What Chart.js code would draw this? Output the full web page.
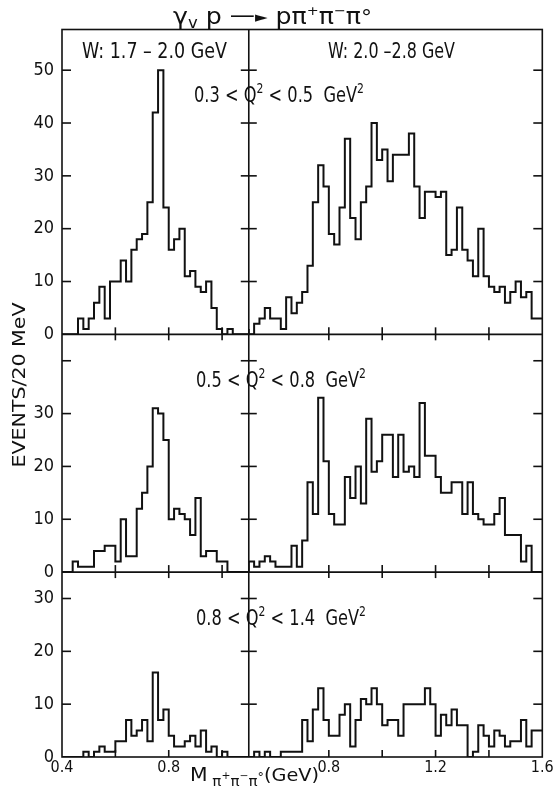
<!DOCTYPE html>
<html>
<head>
<meta charset="utf-8">
<script src="https://cdn.jsdelivr.net/npm/chart.js@4.4.1/dist/chart.umd.min.js"></script>
<style>
html,body{margin:0;padding:0;background:#fff;}
#wrap{position:relative;width:553px;height:789px;}
canvas{display:block;}
</style>
</head>
<body>
<div id="wrap"><canvas id="c" width="553" height="789"></canvas></div>
<script>
// ---- data (events per 20 MeV bin) ----
const BIN_WIDTH = 0.02;                 // GeV
const LEFT_START = 0.40;                // first bin edge, W 1.7-2.0 GeV panels
const RIGHT_START = 0.50;               // first bin edge, W 2.0-2.8 GeV panels
const xRangeLeft = [0.4, 1.1];
const xRangeRight = [0.5, 1.6];

// W: 1.7 - 2.0 GeV
const countsTopLeft = [0,0,0,0,3,1,3,6,9,3,10,10,14,10,16,18,19,25,42,50,24,16,18,20,11,12,9,8,10,5,1,0,1,0,0];
const countsMidLeft = [0,0,0,2,1,1,1,4,4,5,5,2,10,3,3,12,15,20,31,30,25,10,12,11,10,7,14,3,4,4,2,2,0,0,0];
const countsBotLeft = [0,0,0,0,0,1,0,1,2,1,1,3,3,7,4,5,7,3,16,7,9,4,2,2,3,4,2,5,1,2,0,1,0,0,0];
// W: 2.0 - 2.8 GeV
const countsTopRight = [1,0,2,3,5,3,3,1,7,4, 6,8,13,25,32,28,19,17,24,37, 22,18,25,28,40,33,35,29,34,34, 34,38,28,22,27,27,26,27,15,16, 24,16,14,11,20,11,9,8,9,6, 8,10,7,8,3];
const countsMidRight = [0,2,1,2,3,2,1,1,1,5, 1,6,17,11,33,21,11,9,9,18, 14,20,13,29,19,21,26,26,18,26, 19,20,18,32,22,22,18,15,15,17, 17,11,17,11,10,9,9,11,14,7, 7,7,2,5,0];
const countsBotRight = [0,0,1,0,1,0,0,1,1,1, 1,7,3,9,13,7,4,4,8,10, 2,7,11,10,13,10,6,7,7,4, 10,10,10,10,13,10,4,8,6,9, 6,6,0,1,6,4,2,5,4,2, 3,3,7,2,5];

// tick values and labelled ticks
const xTicksLeft = [0.4, 0.6, 0.8, 1.0];
const xLabelsLeft = [0.4, 0.8];
const xTicksRight = [0.8, 1.0, 1.2, 1.4, 1.6];
const xLabelsRight = [0.8, 1.2, 1.6];
const yTicksTop = [0,10,20,30,40,50];
const yLabelsTop = [0,10,20,30,40,50];
const yTicksMid = [0,10,20,30,40];
const yLabelsMid = [0,10,20,30];
const yTicksBot = [0,10,20,30];
const yLabelsBot = [0,10,20,30];
const yMaxTop = 57.7, yMaxMid = 45, yMaxBot = 35;

// texts
const titleRuns = [['γ',23,0],['v',15,4],[' p ',23,0],['—',23,-1],['►',15,-2],[' p',23,0],['π',23,0],['+',13,-9],['π',23,0],['−',13,-9],['π',23,0],['°',20,0]];
const wLeftText = 'W: 1.7 – 2.0 GeV';
const wRightText = 'W: 2.0 –2.8 GeV';
const q2Ranges = [['0.3','0.5'],['0.5','0.8'],['0.8','1.4']];
const yTitle = 'EVENTS/20 MeV';

// ---- drawing ----
const INK = '#111';
const FONT = '"DejaVu Sans Condensed", "DejaVu Sans", sans-serif';
const TFONT = '"DejaVu Sans", sans-serif';

function histPoints(start, counts){
  const pts = counts.map((c,i)=>({x: +(start + i*BIN_WIDTH).toFixed(3), y: c}));
  pts.push({x: +(start + counts.length*BIN_WIDTH).toFixed(3), y: counts[counts.length-1]});
  return pts;
}
function ds(start, counts, xid, yid){
  return {data: histPoints(start, counts), xAxisID: xid, yAxisID: yid, stepped: 'after',
    borderColor: INK, borderWidth: 2, pointRadius: 0, fill: false, tension: 0};
}
function yScale(max, ticks, labels, weight){
  return {type:'linear', axis:'y', position:'left', stack:'rows', stackWeight:max, weight, min:0, max,
    grid:{display:false, drawTicks:false}, border:{display:false},
    afterBuildTicks: s => { s.ticks = ticks.map(v=>({value:v})); },
    ticks:{callback: v => labels.includes(v) ? String(v) : '', font:{family:FONT, size:18}, color:INK, padding:8, autoSkip:false, maxRotation:0, includeBounds:false},
    afterFit: s => { s.width = 62; s.paddingTop = 0; s.paddingBottom = 0; }
  };
}
function xScale(range, ticks, labels, weight){
  return {type:'linear', axis:'x', position:'bottom', stack:'cols', stackWeight: range[1]-range[0], weight, min:range[0], max:range[1],
    grid:{display:false, drawTicks:false}, border:{display:false},
    afterBuildTicks: s => { s.ticks = ticks.map(v=>({value:v})); },
    ticks:{callback: v => labels.includes(v) ? v.toFixed(1) : '', font:{family:FONT, size:16}, color:INK, padding:1, autoSkip:false, maxRotation:0, includeBounds:false},
    afterFit: s => { s.height = 32; s.paddingLeft = 0; s.paddingRight = 0; }
  };
}

function drawRuns(ctx, runs, x, y, targetWidth, family){
  let total = 0;
  runs.forEach(([t,size]) => { ctx.font = size + 'px ' + family; total += ctx.measureText(t).width; });
  const k = targetWidth ? targetWidth/total : 1;
  ctx.save();
  ctx.translate(x, y); ctx.scale(k, 1);
  let cx = 0;
  runs.forEach(([t,size,dy]) => { ctx.font = size + 'px ' + family; ctx.fillText(t, cx, dy); cx += ctx.measureText(t).width; });
  ctx.restore();
}

const decor = {
  id: 'decor',
  afterDraw(chart){
    const {ctx, chartArea: ca} = chart;
    const {xL, xR, yT, yM, yB} = chart.scales;
    ctx.save();
    ctx.strokeStyle = INK; ctx.lineWidth = 1.6;
    const seg = (x1,y1,x2,y2) => { ctx.beginPath(); ctx.moveTo(x1,y1); ctx.lineTo(x2,y2); ctx.stroke(); };
    ctx.strokeRect(ca.left, ca.top, ca.right-ca.left, ca.bottom-ca.top);
    const divX = xR.left;
    seg(divX, ca.top, divX, ca.bottom);
    [yT, yM].forEach(s => seg(ca.left, s.bottom, ca.right, s.bottom));
    [yT, yM, yB].forEach(s => s.ticks.forEach(t => {
      if (t.value === 0) return;
      const p = s.getPixelForValue(t.value);
      seg(ca.left, p, ca.left + 9, p);
      seg(divX - 8, p, divX + 8, p);
      seg(ca.right - 9, p, ca.right, p);
    }));
    [xL, xR].forEach(s => s.ticks.forEach(t => {
      const p = s.getPixelForValue(t.value);
      if (Math.abs(p - s.left) < 1 || Math.abs(p - s.right) < 1) return;
      [yT, yM, yB].forEach(r => {
        seg(p, r.bottom - 7, p, r.bottom);
        if (r !== yT) seg(p, r.top, p, r.top + 6);
      });
    }));
    // texts
    ctx.fillStyle = INK; ctx.textAlign = 'left'; ctx.textBaseline = 'alphabetic';
    drawRuns(ctx, titleRuns, 173, 23.5, 199, TFONT);
    drawRuns(ctx, [[wLeftText,21,0]], 82, 58, 145, TFONT);
    drawRuns(ctx, [[wRightText,21,0]], 328, 58, 127, TFONT);
    const qBase = [102, 387, 625];
    const qX = [194, 196, 196];
    q2Ranges.forEach(([a,b], i) => {
      drawRuns(ctx, [[a + ' < Q',21,0],['2',14,-9],[' < ' + b + '  GeV',21,0],['2',14,-9]], qX[i], qBase[i], 170, TFONT);
    });
    // x axis title
    drawRuns(ctx, [['M',19,0],[' π',14,5],['+',10,-2],['π',14,5],['−',10,-2],['π',14,5],['°',12,0],['(GeV)',18,0]], 190, 781, 129, TFONT);
    // y axis title
    ctx.save();
    ctx.translate(25, 385); ctx.rotate(-Math.PI/2);
    ctx.font = '18px ' + TFONT;
    const w = ctx.measureText(yTitle).width;
    ctx.scale(165/w, 1);
    ctx.textAlign = 'center';
    ctx.fillText(yTitle, 0, 0);
    ctx.restore();
    ctx.restore();
  }
};

new Chart(document.getElementById('c'), {
  type: 'line',
  data: {datasets: [
    ds(LEFT_START, countsTopLeft, 'xL', 'yT'),
    ds(LEFT_START, countsMidLeft, 'xL', 'yM'),
    ds(LEFT_START, countsBotLeft, 'xL', 'yB'),
    ds(RIGHT_START, countsTopRight, 'xR', 'yT'),
    ds(RIGHT_START, countsMidRight, 'xR', 'yM'),
    ds(RIGHT_START, countsBotRight, 'xR', 'yB')
  ]},
  options: {
    responsive: false, animation: false, devicePixelRatio: 1,
    layout: {padding: {top: 29.5, right: 10.7, bottom: 0, left: 0}},
    plugins: {legend: {display: false}, tooltip: {enabled: false}},
    scales: {
      xL: xScale(xRangeLeft, xTicksLeft, xLabelsLeft, 0),
      xR: xScale(xRangeRight, xTicksRight, xLabelsRight, 1),
      yT: yScale(yMaxTop, yTicksTop, yLabelsTop, 2),
      yM: yScale(yMaxMid, yTicksMid, yLabelsMid, 1),
      yB: yScale(yMaxBot, yTicksBot, yLabelsBot, 0)
    }
  },
  plugins: [decor]
});
</script>
</body>
</html>
